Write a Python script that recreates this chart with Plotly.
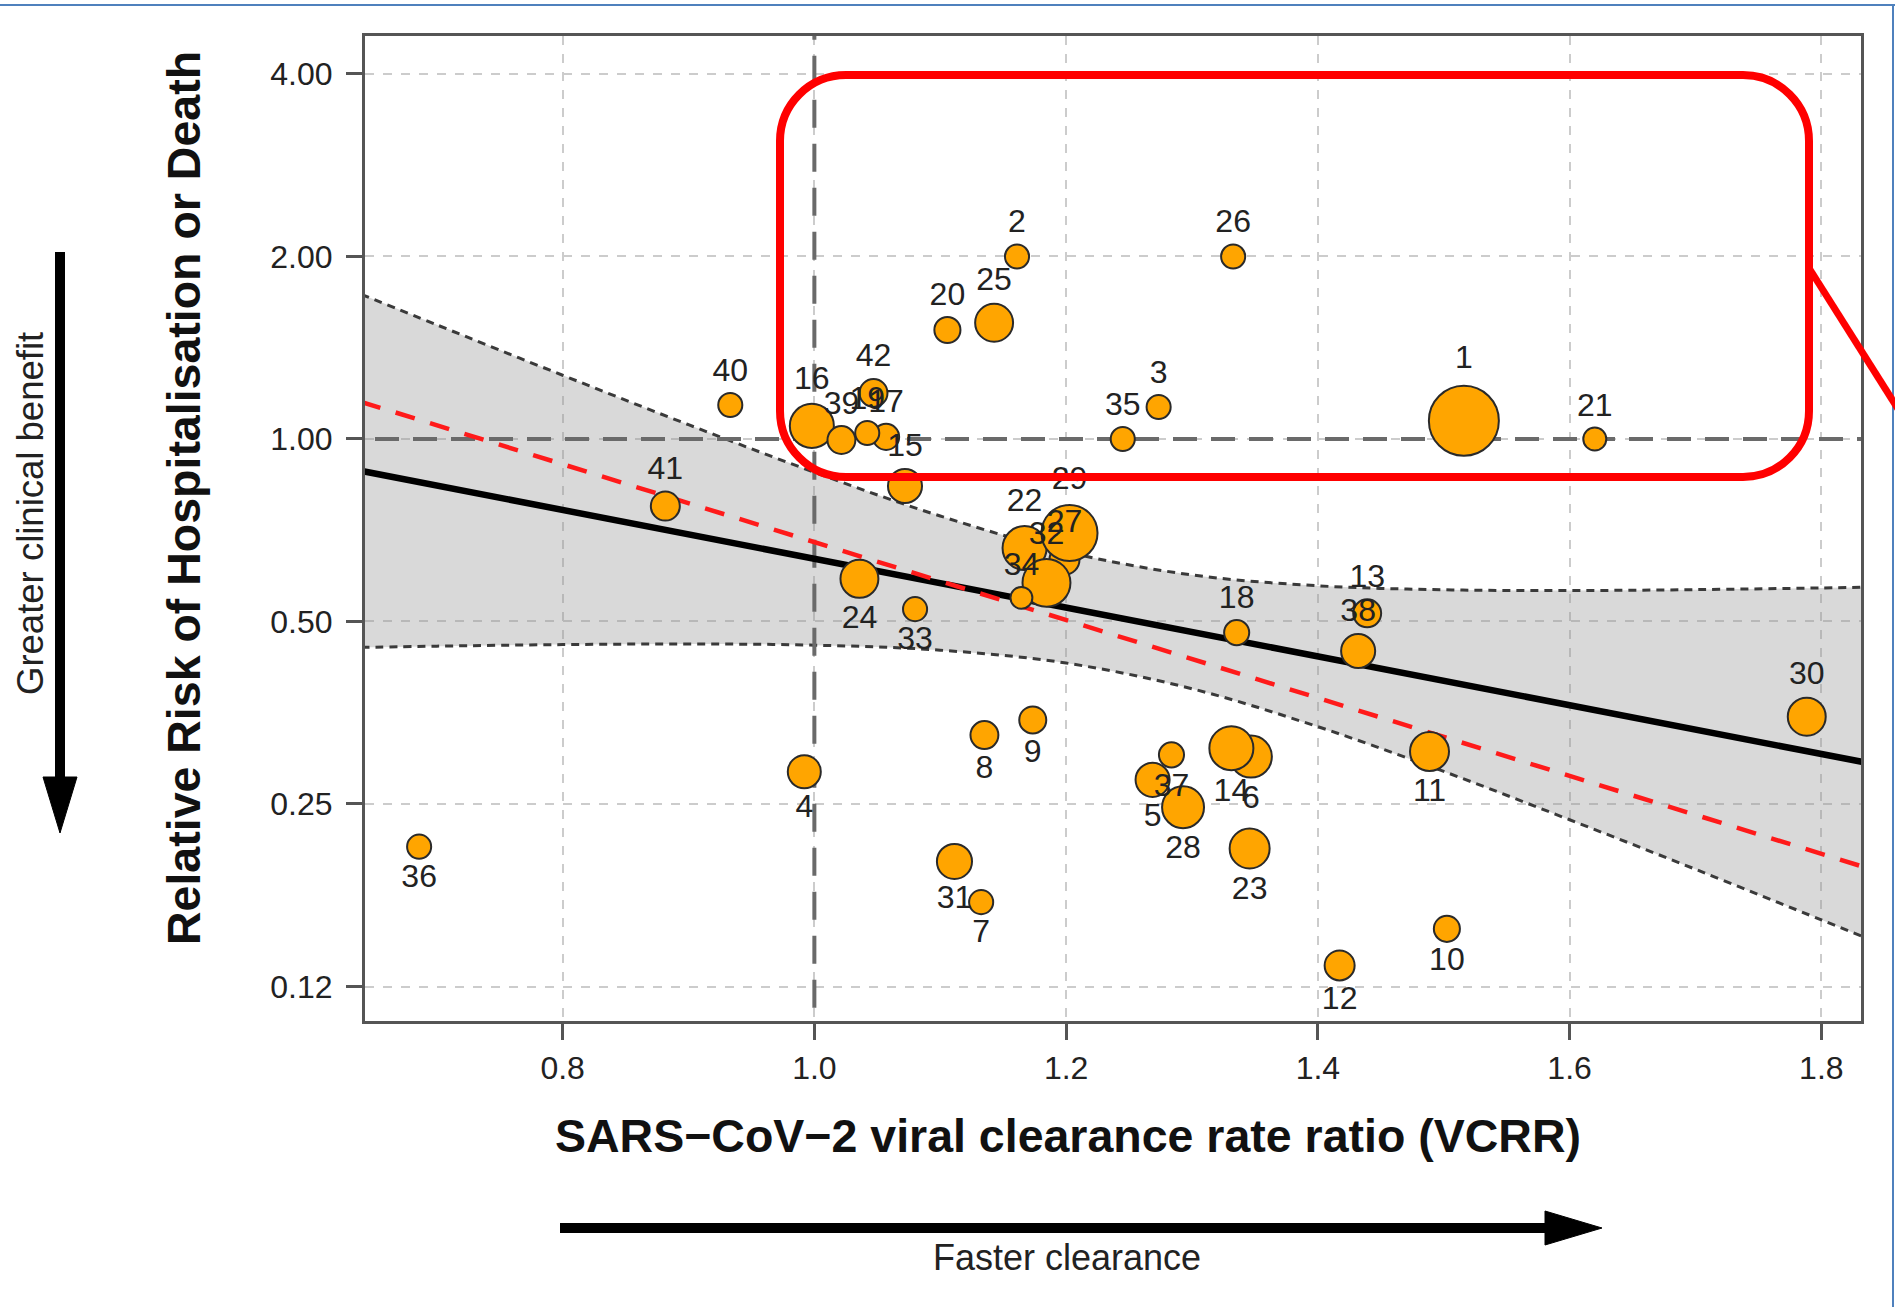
import plotly.graph_objects as go

# ---------------- data ----------------
study_id = [str(i) for i in range(1, 43)]
vcrr = [1.516, 1.161, 1.2735, 0.992, 1.2687, 1.3468, 1.1325, 1.1351, 1.1735, 1.5025,
        1.4887, 1.4173, 1.4392, 1.3313, 1.072, 0.998, 1.057, 1.3355, 1.042, 1.1057,
        1.620, 1.167, 1.3458, 1.0358, 1.1428, 1.3327, 1.1987, 1.2929, 1.2027, 1.7884,
        1.1113, 1.1844, 1.080, 1.1645, 1.245, 0.686, 1.2837, 1.432, 1.0215, 0.9332,
        0.8816, 1.047]
rel_risk = [1.072, 2.00, 1.129, 0.2825, 0.274, 0.2993, 0.1722, 0.3248, 0.344, 0.1556,
            0.3052, 0.1354, 0.5158, 0.309, 0.8366, 1.051, 1.008, 0.4793, 1.023, 1.513,
            1.00, 0.661, 0.2111, 0.588, 1.555, 2.00, 0.632, 0.247, 0.700, 0.3483,
            0.201, 0.579, 0.524, 0.547, 1.00, 0.2126, 0.3013, 0.447, 0.996, 1.138,
            0.775, 1.191]
# relative study weight (bubble area)
weight = [49.0, 5.8, 5.8, 10.9, 11.6, 17.6, 5.8, 7.8, 7.3, 6.8,
          15.2, 9.0, 7.8, 19.4, 11.6, 19.4, 6.8, 6.3, 5.8, 6.8,
          5.3, 19.4, 16.0, 14.4, 14.4, 5.8, 9.0, 17.6, 31.4, 14.4,
          12.3, 23.0, 5.8, 4.8, 5.8, 5.8, 6.3, 11.6, 7.8, 5.8,
          8.4, 7.8]
label_side = ["top", "top", "top", "bottom", "bottom", "bottom", "bottom", "bottom", "bottom", "bottom",
              "bottom", "bottom", "top", "bottom", "top", "top", "top", "top", "top", "top",
              "top", "top", "bottom", "bottom", "top", "top", "top", "bottom", "top", "top",
              "bottom", "top", "bottom", "top", "top", "bottom", "bottom", "top", "top", "top",
              "top", "top"]

# meta-regression fit and its confidence band
band_x = [0.64, 0.7, 0.8, 0.9, 1.0, 1.1, 1.2, 1.3, 1.4, 1.5, 1.6, 1.7, 1.8, 1.84]
band_upper = [1.7325, 1.5427, 1.2739, 1.0558, 0.8813, 0.7463, 0.6514, 0.5967, 0.5726,
              0.5640, 0.5624, 0.5643, 0.5680, 0.5698]
band_lower = [0.4531, 0.4553, 0.4580, 0.4591, 0.4570, 0.4484, 0.4270, 0.3873, 0.3353,
              0.2829, 0.2355, 0.1951, 0.1610, 0.1490]
fit_x = [0.64, 1.84]
fit_y = [0.8858, 0.2913]
alt_fit_x = [0.64, 1.84]
alt_fit_y = [1.1514, 0.1950]

x_ticks = [0.8, 1.0, 1.2, 1.4, 1.6, 1.8]
x_ticktext = ["0.8", "1.0", "1.2", "1.4", "1.6", "1.8"]
y_ticks = [0.125, 0.25, 0.5, 1, 2, 4]
y_ticktext = ["0.12", "0.25", "0.50", "1.00", "2.00", "4.00"]

# ---------------- layout geometry ----------------
W, H = 1895, 1307
PL, PR, PT, PB = 365, 1861, 36, 1021
FONT = "Liberation Sans, Arial, Helvetica, sans-serif"


def px(X):
    return (X - PL) / (PR - PL)


def py(Y):
    return (PB - Y) / (PB - PT)


fig = go.Figure()

# confidence band
fig.add_trace(go.Scatter(x=band_x, y=band_lower, mode="lines",
                         line=dict(color="#3a3a3a", width=3, dash="8px,6px", shape="spline"),
                         hoverinfo="skip"))
fig.add_trace(go.Scatter(x=band_x, y=band_upper, mode="lines", fill="tonexty",
                         fillcolor="rgba(150,150,150,0.36)",
                         line=dict(color="#3a3a3a", width=3, dash="8px,6px", shape="spline"),
                         hoverinfo="skip"))

# reference lines (RR = 1, VCRR = 1)
fig.add_trace(go.Scatter(x=[0.5, 2.0], y=[1, 1], mode="lines",
                         line=dict(color="#6a6a6a", width=4, dash="24px,14px"), hoverinfo="skip"))
fig.add_trace(go.Scatter(x=[1, 1], y=[0.05, 8], mode="lines",
                         line=dict(color="#6a6a6a", width=4, dash="28px,16px"), hoverinfo="skip"))

# fits
fig.add_trace(go.Scatter(x=fit_x, y=fit_y, mode="lines",
                         line=dict(color="black", width=6.5), hoverinfo="skip"))
fig.add_trace(go.Scatter(x=alt_fit_x, y=alt_fit_y, mode="lines",
                         line=dict(color="#ff1a1a", width=4.5, dash="20px,16px"), hoverinfo="skip"))

# studies
sizes = [10 * w ** 0.5 for w in weight]
textpos = [s + " center" for s in label_side]
fig.add_trace(go.Scatter(
    x=vcrr, y=rel_risk, mode="markers+text", text=study_id, textposition=textpos,
    textfont=dict(family=FONT, size=32, color="#222222"),
    marker=dict(size=sizes, color="#FFA500", line=dict(color="#2a2a2a", width=2), opacity=1),
    hovertemplate="Study %{text}<br>VCRR %{x}<br>RR %{y}<extra></extra>"))

axis_common = dict(
    showline=True, mirror=True, linecolor="#555555", linewidth=3,
    ticks="outside", ticklen=16, tickwidth=2.5, tickcolor="#555555",
    showgrid=True, gridcolor="#cccccc", gridwidth=2, griddash="9px,9px",
    zeroline=False, tickfont=dict(family=FONT, size=32, color="#222222"),
)

fig.update_layout(
    width=W, height=H,
    margin=dict(l=PL, r=W - PR, t=PT, b=H - PB, pad=0),
    paper_bgcolor="white", plot_bgcolor="white", showlegend=False,
    xaxis=dict(range=[0.643, 1.8315], tickvals=x_ticks, ticktext=x_ticktext,
               ticklabelstandoff=1, **axis_common),
    yaxis=dict(type="log", range=[-0.960, 0.6647], tickvals=y_ticks, ticktext=y_ticktext,
               ticklabelstandoff=7, **axis_common),
)

# titles / side notes
ann = [
    dict(text="<b>Relative Risk of Hospitalisation or Death</b>", x=px(184), y=py(498),
         textangle=-90, font=dict(family=FONT, size=46.5, color="#111111")),
    dict(text="<b>SARS\u2212CoV\u22122 viral clearance rate ratio (VCRR)</b>", x=px(1068), y=py(1136),
         font=dict(family=FONT, size=46.5, color="#111111")),
    dict(text="Greater clinical benefit", x=px(30), y=py(514), textangle=-90,
         font=dict(family=FONT, size=36.5, color="#222222")),
    dict(text="Faster clearance", x=px(1067), y=py(1257),
         font=dict(family=FONT, size=36, color="#222222")),
]
for a in ann:
    fig.add_annotation(xref="paper", yref="paper", showarrow=False,
                       xanchor="center", yanchor="middle", **a)


def rounded_rect(L, T, R, B, r):
    k = 0.5523 * r
    return " ".join([
        f"M {px(L + r)},{py(T)}",
        f"L {px(R - r)},{py(T)}",
        f"C {px(R - r + k)},{py(T)} {px(R)},{py(T + r - k)} {px(R)},{py(T + r)}",
        f"L {px(R)},{py(B - r)}",
        f"C {px(R)},{py(B - r + k)} {px(R - r + k)},{py(B)} {px(R - r)},{py(B)}",
        f"L {px(L + r)},{py(B)}",
        f"C {px(L + r - k)},{py(B)} {px(L)},{py(B - r + k)} {px(L)},{py(B - r)}",
        f"L {px(L)},{py(T + r)}",
        f"C {px(L)},{py(T + r - k)} {px(L + r - k)},{py(T)} {px(L + r)},{py(T)}",
        "Z"])


def tri(p1, p2, p3):
    return (f"M {px(p1[0])},{py(p1[1])} L {px(p2[0])},{py(p2[1])} "
            f"L {px(p3[0])},{py(p3[1])} Z")


shapes = [
    # slide frame
    dict(type="line", x0=px(0), x1=px(W), y0=py(5), y1=py(5), line=dict(color="#4f81bd", width=2)),
    dict(type="line", x0=px(1893), x1=px(1893), y0=py(5), y1=py(H), line=dict(color="#4f81bd", width=2)),
    # highlight box
    dict(type="path", path=rounded_rect(780, 75, 1809, 477, 66), line=dict(color="#ff0000", width=8)),
    dict(type="line", x0=px(1809), y0=py(268), x1=px(1900), y1=py(412), line=dict(color="#ff0000", width=7)),
    # vertical arrow
    dict(type="line", x0=px(60), x1=px(60), y0=py(252), y1=py(785), line=dict(color="black", width=10)),
    dict(type="path", path=tri((43, 777), (77, 777), (60, 833)), fillcolor="black",
         line=dict(color="black", width=1)),
    # horizontal arrow
    dict(type="line", x0=px(560), x1=px(1550), y0=py(1228), y1=py(1228), line=dict(color="black", width=10)),
    dict(type="path", path=tri((1545, 1211), (1545, 1245), (1602, 1228)), fillcolor="black",
         line=dict(color="black", width=1)),
]
for s in shapes:
    fig.add_shape(xref="paper", yref="paper", layer="above", **s)

fig.write_html("out.html", config={"displayModeBar": False},
               post_script="document.body.style.margin='0px';")
